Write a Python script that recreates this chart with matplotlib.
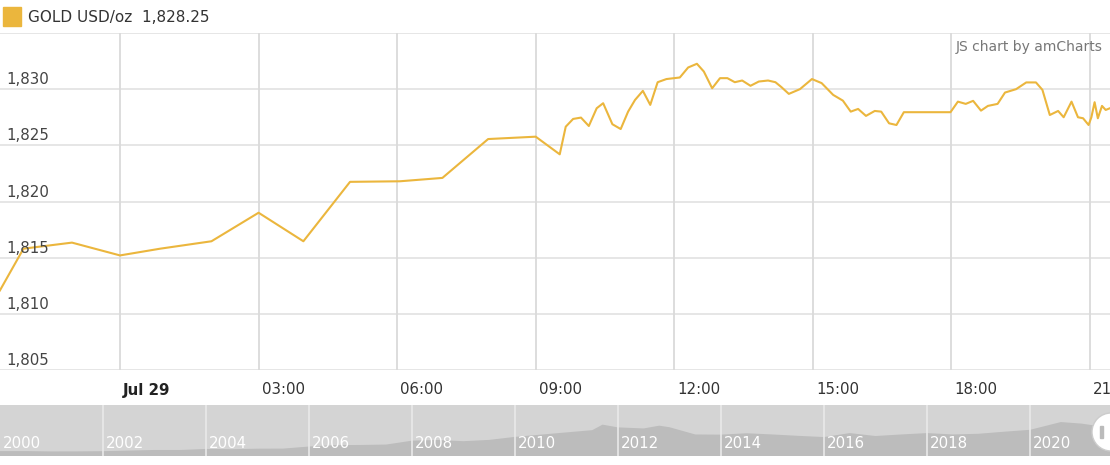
import matplotlib.pyplot as plt
from matplotlib.patches import Circle, Rectangle

# intraday gold quotes, hours relative to Jul 29 00:00
hours = [-2.6, -2.09, -1.04, 0.0, 0.87, 1.98, 3.0, 3.97, 4.98, 6.06, 6.98, 7.97,
         9.0, 9.52, 9.65, 9.81, 9.98, 10.15, 10.32, 10.46, 10.66, 10.84, 11.0,
         11.15, 11.32, 11.48, 11.64, 11.83, 12.12, 12.3, 12.49, 12.64, 12.82,
         12.99, 13.15, 13.31, 13.47, 13.65, 13.83, 14.03, 14.19, 14.32, 14.48,
         14.72, 14.98, 15.19, 15.44, 15.65, 15.82, 15.98, 16.15, 16.34, 16.48,
         16.65, 16.81, 16.97, 17.98, 18.14, 18.31, 18.47, 18.64, 18.79, 19.0,
         19.16, 19.4, 19.62, 19.83, 19.97, 20.13, 20.31, 20.43, 20.6, 20.74,
         20.85, 20.97, 21.03, 21.1, 21.17, 21.26, 21.34, 21.43]
price = [1812.08, 1815.8, 1816.34, 1815.2, 1815.8, 1816.46, 1819.0, 1816.46,
         1821.75, 1821.8, 1822.1, 1825.56, 1825.77, 1824.2, 1826.66, 1827.35,
         1827.47, 1826.72, 1828.3, 1828.75, 1826.88, 1826.45, 1828.0, 1829.04,
         1829.85, 1828.6, 1830.62, 1830.9, 1831.04, 1831.93, 1832.26, 1831.57,
         1830.08, 1830.98, 1830.98, 1830.62, 1830.77, 1830.3, 1830.68, 1830.77,
         1830.62, 1830.18, 1829.58, 1830.0, 1830.9, 1830.54, 1829.49, 1828.98,
         1828.0, 1828.24, 1827.62, 1828.06, 1828.0, 1826.96, 1826.81, 1827.95,
         1827.95, 1828.89, 1828.69, 1828.96, 1828.09, 1828.51, 1828.69, 1829.7,
         1830.0, 1830.6, 1830.6, 1829.94, 1827.7, 1828.06, 1827.5, 1828.89,
         1827.5, 1827.41, 1826.81, 1827.5, 1828.84, 1827.41, 1828.51, 1828.15,
         1828.3]

tick_hours = [0, 3, 6, 9, 12, 15, 18, 21]
tick_labels = ['Jul 29', '03:00', '06:00', '09:00', '12:00', '15:00', '18:00', '21:00']
y_ticks = [1805, 1810, 1815, 1820, 1825, 1830, 1835]

# long-term history shown in the scrollbar
hist_year = [2000.0, 2000.5, 2001.0, 2001.5, 2002.0, 2002.5, 2003.0, 2003.5,
             2004.0, 2004.5, 2005.0, 2005.5, 2006.0, 2006.5, 2007.0, 2007.5,
             2008.0, 2008.5, 2009.0, 2009.5, 2010.0, 2010.5, 2011.0, 2011.5,
             2011.7, 2012.0, 2012.5, 2012.8, 2013.0, 2013.5, 2014.0, 2014.5,
             2015.0, 2015.5, 2016.0, 2016.5, 2017.0, 2017.5, 2018.0, 2018.5,
             2019.0, 2019.5, 2020.0, 2020.6, 2021.0, 2021.3, 2021.6]
hist_price = [285, 285, 265, 268, 280, 315, 350, 350, 410, 395, 425, 430, 550,
              630, 640, 665, 890, 930, 860, 935, 1110, 1240, 1370, 1500, 1820,
              1660, 1600, 1760, 1670, 1250, 1240, 1320, 1250, 1170, 1100, 1330,
              1160, 1250, 1330, 1250, 1290, 1410, 1520, 1970, 1880, 1750, 1810]
year_labels = [2000, 2002, 2004, 2006, 2008, 2010, 2012, 2014, 2016, 2018, 2020]

gold = '#ebb63d'
W, H = 1110, 465
fig = plt.figure(figsize=(W / 100, H / 100), dpi=100)
plt.rcParams['font.family'] = 'DejaVu Sans'

# main chart: y 33..370 px
ax = fig.add_axes([0, 1 - 370 / H, 1, 337 / H])
x0 = -120 / 46.19
x1 = (W - 120) / 46.19
ax.set_xlim(x0, x1)
ax.set_ylim(1805, 1835)
for s in ax.spines.values():
    s.set_visible(False)
ax.set_xticks([])
ax.set_yticks([])
for v in y_ticks:
    ax.axhline(v, color='#e4e4e4', lw=1.3, zorder=1)
for t in tick_hours:
    ax.axvline(t, color='#dadada', lw=1.3, zorder=1)
ax.plot(hours, price, color=gold, lw=1.5, zorder=3)

for v in y_ticks[:-1]:
    ax.annotate(f'{v:,}', xy=(0, v), xycoords=('axes fraction', 'data'),
                xytext=(6, 2), textcoords='offset pixels', ha='left', va='bottom',
                fontsize=10.8, color='#444444', zorder=4)

for t, lab in zip(tick_hours, tick_labels):
    ax.annotate(lab, xy=(t, 0), xycoords=('data', 'axes fraction'),
                xytext=(3, -20), textcoords='offset pixels', ha='left', va='center',
                fontsize=10.8, color='#222222' if lab == 'Jul 29' else '#333333',
                fontweight='bold' if lab == 'Jul 29' else 'normal',
                annotation_clip=False)

ax.text(1 - 7 / W, 1 - 14 / 337, 'JS chart by amCharts', transform=ax.transAxes,
        ha='right', va='center', fontsize=10, color='#777777')

# header
fig.patches.append(Rectangle((3 / W, 1 - 26 / H), 18 / W, 19 / H,
                             transform=fig.transFigure, color=gold))
fig.text(28 / W, 1 - 17 / H, 'GOLD USD/oz  1,828.25', ha='left', va='center',
         fontsize=11, color='#333333')

# scrollbar: y 405..456 px
sb = fig.add_axes([0, 1 - 456 / H, 1, 51 / H])
sb.set_xlim(2000, 2000 + W / 51.5)
sb.set_ylim(0, 2960)
sb.set_facecolor('#d4d4d4')
for s in sb.spines.values():
    s.set_visible(False)
sb.set_xticks([])
sb.set_yticks([])
sb.fill_between(hist_year, hist_price, 0, color='#bcbcbc', lw=0)
for yr in year_labels:
    if yr > 2000:
        sb.axvline(yr, color='#e9e9e9', lw=1.2)
    sb.text(yr + 0.06, 0.25, str(yr), transform=sb.get_xaxis_transform(),
            ha='left', va='center', fontsize=10.8, color='white')

grip = Circle((1111 / 100, (H - 432) / 100), 0.19, transform=fig.dpi_scale_trans,
              facecolor='white', edgecolor='#cccccc', lw=1, zorder=5)
fig.patches.append(grip)
fig.patches.append(Rectangle((1100 / W, 1 - 438 / H), 3 / W, 12 / H,
                             transform=fig.transFigure, color='#bbbbbb', zorder=6))

fig.savefig('out.png', dpi=100)
